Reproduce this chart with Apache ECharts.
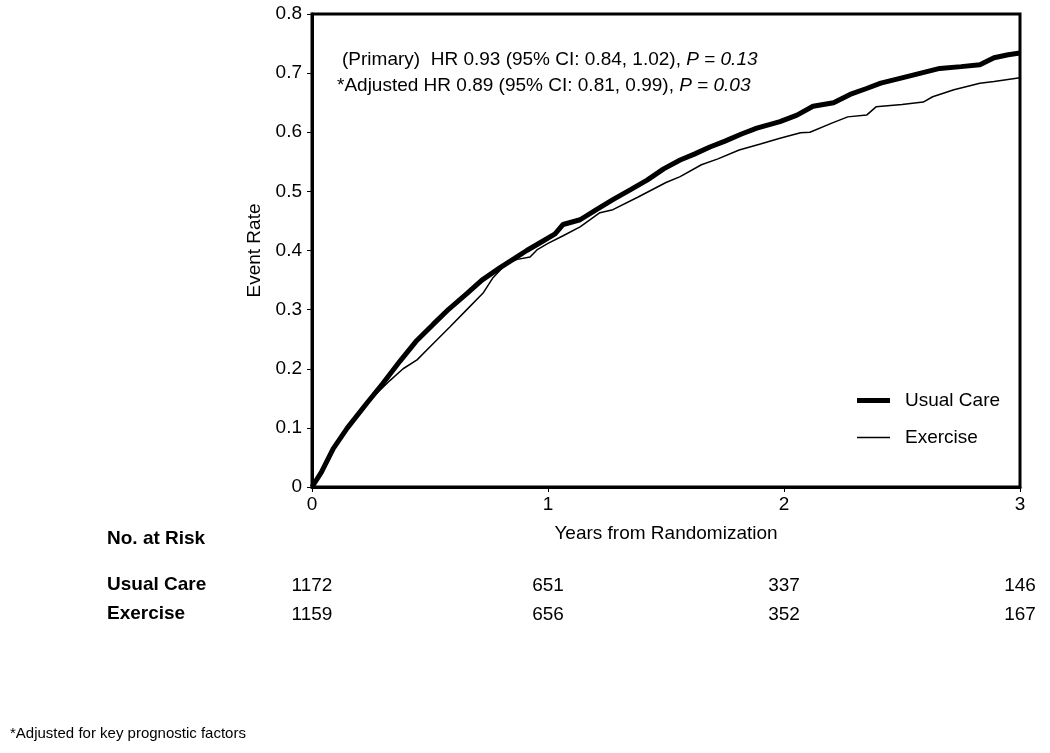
<!DOCTYPE html>
<html><head><meta charset="utf-8">
<script src="https://cdn.jsdelivr.net/npm/echarts@6/dist/echarts.min.js"></script>
<style>html,body{margin:0;padding:0;background:#fff}#c{width:1050px;height:753px}</style>
</head><body><div id="c"></div>
<script>
// Kaplan-Meier event rate curves: [years, event rate]
const usualCare = [
 [0,0],[0.04,0.025],[0.09,0.065],[0.15,0.10],[0.233,0.142],[0.30,0.175],[0.373,0.213],
 [0.44,0.246],[0.513,0.275],[0.58,0.301],[0.656,0.327],[0.72,0.350],[0.797,0.371],
 [0.86,0.387],[0.91,0.400],[0.97,0.414],[1.03,0.428],[1.064,0.444],[1.136,0.452],
 [1.2,0.468],[1.275,0.486],[1.35,0.503],[1.42,0.519],[1.49,0.538],[1.56,0.553],
 [1.62,0.563],[1.686,0.575],[1.75,0.585],[1.82,0.597],[1.885,0.607],[1.983,0.618],
 [2.055,0.629],[2.123,0.644],[2.21,0.650],[2.28,0.664],[2.35,0.674],[2.41,0.683],
 [2.5,0.692],[2.58,0.700],[2.66,0.708],[2.75,0.711],[2.83,0.714],[2.89,0.726],
 [2.95,0.731],[3.0,0.734]
];
const exercise = [
 [0,0],[0.05,0.03],[0.1,0.07],[0.15,0.10],[0.246,0.147],[0.33,0.18],[0.386,0.20],
 [0.445,0.215],[0.515,0.243],[0.585,0.271],[0.656,0.30],[0.725,0.328],[0.767,0.354],
 [0.826,0.379],[0.87,0.385],[0.924,0.389],[0.953,0.401],[1.0,0.412],[1.064,0.425],
 [1.136,0.440],[1.22,0.464],[1.275,0.469],[1.38,0.49],[1.5,0.515],[1.56,0.525],
 [1.65,0.545],[1.72,0.555],[1.81,0.570],[1.9,0.580],[1.983,0.590],[2.07,0.599],
 [2.11,0.600],[2.2,0.615],[2.27,0.626],[2.35,0.629],[2.39,0.643],[2.5,0.647],
 [2.59,0.651],[2.63,0.660],[2.72,0.672],[2.83,0.683],[2.89,0.686],[3.0,0.692]
];
const seriesNames = ['Usual Care','Exercise'];
const riskTimes = [0,1,2,3];
const riskUsualCare = [1172,651,337,146];
const riskExercise = [1159,656,352,167];
const annotLine1 = ['(Primary)  HR 0.93 (95% CI: 0.84, 1.02), ', 'P', ' = ', '0.13'];
const annotLine2 = ['*Adjusted HR 0.89 (95% CI: 0.81, 0.99), ', 'P', ' = ', '0.03'];
const footnote = '*Adjusted for key prognostic factors';

const FONT = '"Liberation Sans", Arial, sans-serif';
const FS = 19;
const chart = echarts.init(document.getElementById('c'), null, {renderer:'canvas'});
const option = {
  animation:false,
  backgroundColor:'#fff',
  textStyle:{fontFamily:FONT,color:'#000'},
  grid:{left:312,right:30,top:14,bottom:266,show:true,borderColor:'#000',borderWidth:3,backgroundColor:'transparent'},
  xAxis:{type:'value',min:0,max:3,interval:1,
    name:'Years from Randomization',nameLocation:'middle',nameGap:37,
    nameTextStyle:{fontSize:FS,color:'#000',fontFamily:FONT},
    axisLine:{show:true,lineStyle:{color:'#000',width:3}},
    axisTick:{show:true,length:5,inside:false,lineStyle:{color:'#000',width:1}},
    axisLabel:{fontSize:FS,color:'#000',margin:8,fontFamily:FONT},
    splitLine:{show:false}},
  yAxis:{type:'value',min:0,max:0.8,interval:0.1,
    name:'Event Rate',nameLocation:'middle',nameGap:43,
    nameTextStyle:{fontSize:FS,color:'#000',fontFamily:FONT},
    axisLine:{show:true,lineStyle:{color:'#000',width:3}},
    axisTick:{show:true,length:5,lineStyle:{color:'#000',width:1}},
    axisLabel:{fontSize:FS,color:'#000',margin:10,fontFamily:FONT,
      formatter:v=>v===0?'0':v.toFixed(1)},
    splitLine:{show:false}},
  legend:{orient:'vertical',left:857,top:391,padding:0,itemWidth:33,itemHeight:14,itemGap:18,
    symbolKeepAspect:true,
    data:[
      {name:seriesNames[0],icon:'path://M0,0L33,0L33,5L0,5Z'},
      {name:seriesNames[1],icon:'path://M0,0L33,0L33,1.5L0,1.5Z'}
    ],
    textStyle:{fontSize:FS,color:'#000',fontFamily:FONT,padding:[0,0,0,10]}},
  series:[
    {name:seriesNames[0],type:'line',data:usualCare,showSymbol:false,symbol:'none',
     lineStyle:{color:'#000',width:5},itemStyle:{color:'#000'},z:3},
    {name:seriesNames[1],type:'line',data:exercise,showSymbol:false,symbol:'none',
     lineStyle:{color:'#000',width:1.5},itemStyle:{color:'#000'},z:2}
  ]
};
chart.setOption(option);

function richLine(parts){
  return parts[0]+'{i|'+parts[1]+'}'+parts[2]+'{i|'+parts[3]+'}';
}
const rich = {i:{fontStyle:'italic',fontSize:FS,fontFamily:FONT}};
const g = [];
g.push({type:'text',left:342,top:50,style:{text:richLine(annotLine1),font:FS+'px '+FONT,fill:'#000',rich:rich}});
g.push({type:'text',left:337,top:76,style:{text:richLine(annotLine2),font:FS+'px '+FONT,fill:'#000',rich:rich}});
g.push({type:'text',left:107,top:529,style:{text:'No. at Risk',font:'bold '+FS+'px '+FONT,fill:'#000'}});
g.push({type:'text',left:107,top:575,style:{text:seriesNames[0],font:'bold '+FS+'px '+FONT,fill:'#000'}});
g.push({type:'text',left:107,top:604,style:{text:seriesNames[1],font:'bold '+FS+'px '+FONT,fill:'#000'}});
riskTimes.forEach((t,i)=>{
  const x = chart.convertToPixel({gridIndex:0},[t,0])[0];
  g.push({type:'text',x:x,y:586,style:{text:String(riskUsualCare[i]),font:FS+'px '+FONT,fill:'#000',align:'center',verticalAlign:'middle'}});
  g.push({type:'text',x:x,y:615,style:{text:String(riskExercise[i]),font:FS+'px '+FONT,fill:'#000',align:'center',verticalAlign:'middle'}});
});
g.push({type:'text',left:10,top:726,style:{text:footnote,font:'15px '+FONT,fill:'#000'}});
chart.setOption({graphic:g});
</script></body></html>
